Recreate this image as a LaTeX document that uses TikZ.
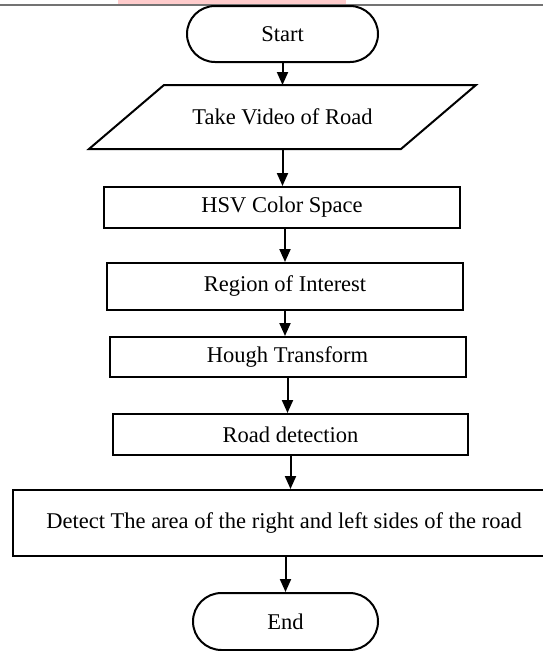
\documentclass[tikz,border=0pt]{standalone}
\usepackage{fontspec}
\setmainfont{Liberation Serif}
\usetikzlibrary{arrows.meta}

\tikzset{
  terminal/.style={draw, rectangle, rounded corners=28pt, minimum width=191pt, minimum height=56pt},
  process/.style={draw, rectangle, minimum width=356pt, minimum height=41pt},
  inout/.style={rectangle, minimum width=310pt, minimum height=62pt},
  flow/.style={-{Triangle[length=13pt,width=11pt]}}
}

\begin{document}
\begin{tikzpicture}[x=1pt,y=-1pt,line width=2pt]
\tikzstyle{every node}+=[inner sep=0pt, font=\fontsize{22.5}{27}\selectfont]
\useasboundingbox (0,0) rectangle (543,651);
\clip (0,0) rectangle (543,651);
\fill [red!20] (118,0) rectangle (346,3.5);
\draw [black!55, line width=1.5pt] (0,5) -- (543,5);
\node [terminal] (start) at (282.5,34) {Start};
\node [inout] (video) at (282.5,117) {Take Video of Road};
\draw ([xshift=37.5pt]video.north west) -- ([xshift=37.5pt]video.north east)
  -- ([xshift=-37.5pt]video.south east) -- ([xshift=-37.5pt]video.south west) -- cycle;
\node [process] (hsv) at (282,207.5) {HSV Color Space};
\node [process, minimum height=47pt] (roi) at (285,286.5) {Region of Interest};
\node [process, minimum height=40pt] (hough) at (287.5,357) {Hough Transform};
\node [process, minimum width=355pt] (road) at (290.5,434.5) {Road detection};
\node [process, minimum width=542pt, minimum height=66pt] (area) at (284,523) {Detect The area of the right and left sides of the road};
\node [terminal, minimum width=185pt, minimum height=57pt, rounded corners=28.5pt] (end) at (285.5,621.5) {End};
\draw [flow] (start.south) -- (video.north);
\draw [flow] (video.south) -- (video.south |- hsv.north);
\draw [flow] (hsv.south) ++(2,0) -- (hsv.south -| roi.north) -- (roi.north);
\draw [flow] (roi.south) -- (roi.south |- hough.north);
\draw [flow] (hough.south) -- (hough.south |- road.north);
\draw [flow] (road.south) -- (road.south |- area.north);
\draw [flow] (area.south -| end.north) -- (end.north);
\end{tikzpicture}
\end{document}
